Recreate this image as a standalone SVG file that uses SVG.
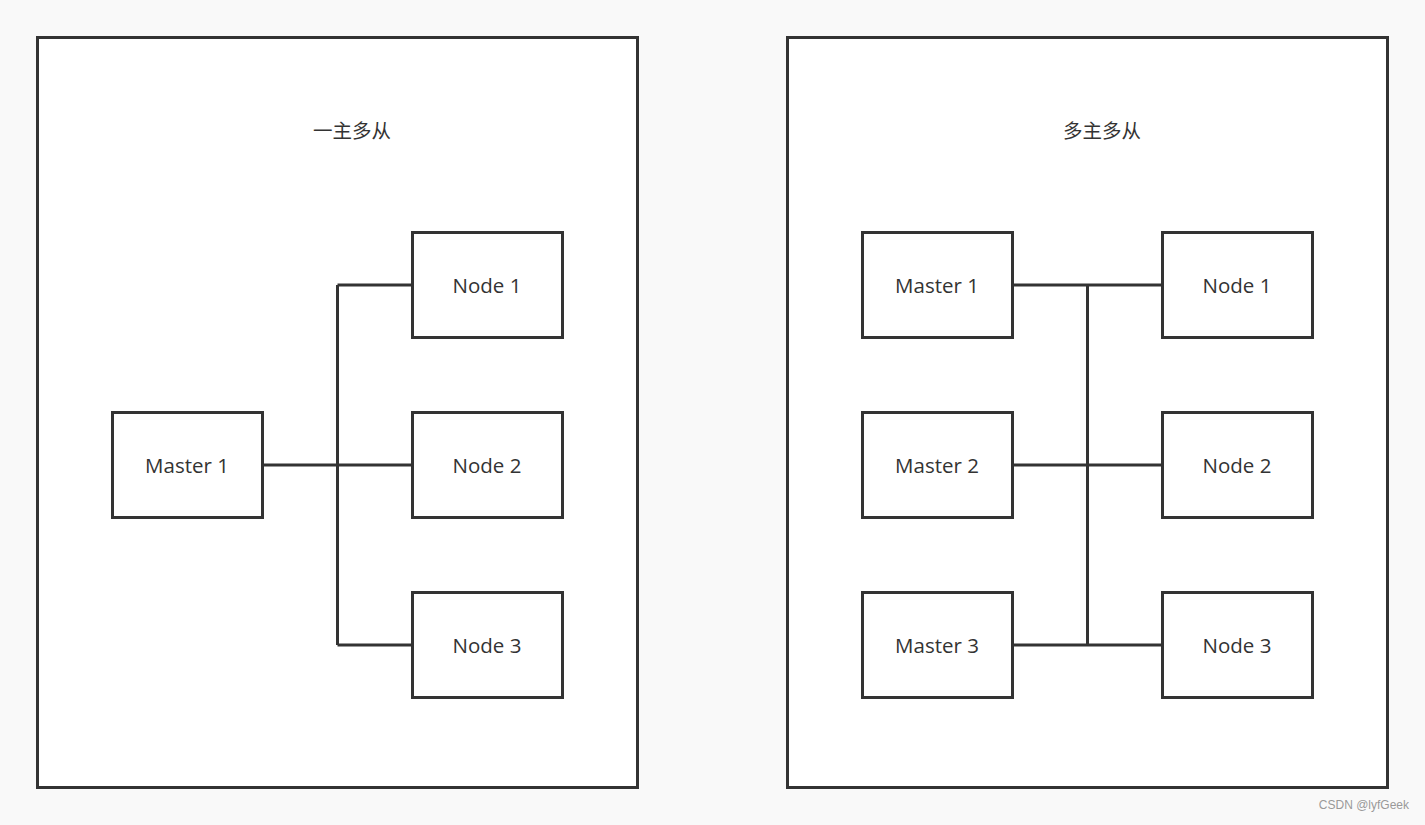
<svg xmlns="http://www.w3.org/2000/svg" width="1425" height="825" viewBox="0 0 1425 825">
<style>
.frame{fill:#fff;stroke:#333;stroke-width:3}
.box{fill:#fff;stroke:#333;stroke-width:3}
.lbl{font-family:"Open Sans","Noto Sans","Liberation Sans",sans-serif;font-size:20.5px;fill:#333;text-anchor:middle;dominant-baseline:central}
.ttl{font-family:"Noto Sans CJK SC","Noto Sans",sans-serif;font-size:19.5px;fill:#333;text-anchor:middle;dominant-baseline:central}
.wire{fill:none;stroke:#333;stroke-width:3}
</style>
<rect width="1425" height="825" fill="#f9f9f9"/>
<g id="frame-left"><rect class="frame" x="37.5" y="37.5" width="600" height="750"/><text class="ttl" x="352" y="129">一主多从</text></g>
<g id="frame-right"><rect class="frame" x="787.5" y="37.5" width="600" height="750"/><text class="ttl" x="1102" y="129">多主多从</text></g>
<g id="connectors">
<path class="wire" d="M262.5 465H412.5M337.5 285V645M337.5 285H412.5M337.5 645H412.5"/>
<path class="wire" d="M1012.5 285H1162.5M1012.5 465H1162.5M1012.5 645H1162.5M1087.5 285V645"/>
</g>
<g id="l-master1"><rect class="box" x="112.5" y="412.5" width="150" height="105"/><text class="lbl" x="187" y="465">Master 1</text></g>
<g id="l-node1"><rect class="box" x="412.5" y="232.5" width="150" height="105"/><text class="lbl" x="487" y="285">Node 1</text></g>
<g id="l-node2"><rect class="box" x="412.5" y="412.5" width="150" height="105"/><text class="lbl" x="487" y="465">Node 2</text></g>
<g id="l-node3"><rect class="box" x="412.5" y="592.5" width="150" height="105"/><text class="lbl" x="487" y="645">Node 3</text></g>
<g id="r-master1"><rect class="box" x="862.5" y="232.5" width="150" height="105"/><text class="lbl" x="937" y="285">Master 1</text></g>
<g id="r-master2"><rect class="box" x="862.5" y="412.5" width="150" height="105"/><text class="lbl" x="937" y="465">Master 2</text></g>
<g id="r-master3"><rect class="box" x="862.5" y="592.5" width="150" height="105"/><text class="lbl" x="937" y="645">Master 3</text></g>
<g id="r-node1"><rect class="box" x="1162.5" y="232.5" width="150" height="105"/><text class="lbl" x="1237" y="285">Node 1</text></g>
<g id="r-node2"><rect class="box" x="1162.5" y="412.5" width="150" height="105"/><text class="lbl" x="1237" y="465">Node 2</text></g>
<g id="r-node3"><rect class="box" x="1162.5" y="592.5" width="150" height="105"/><text class="lbl" x="1237" y="645">Node 3</text></g>
<text x="1409" y="809" font-family="Liberation Sans,Arial,sans-serif" font-size="12" fill="#999" text-anchor="end">CSDN @lyfGeek</text>
</svg>
